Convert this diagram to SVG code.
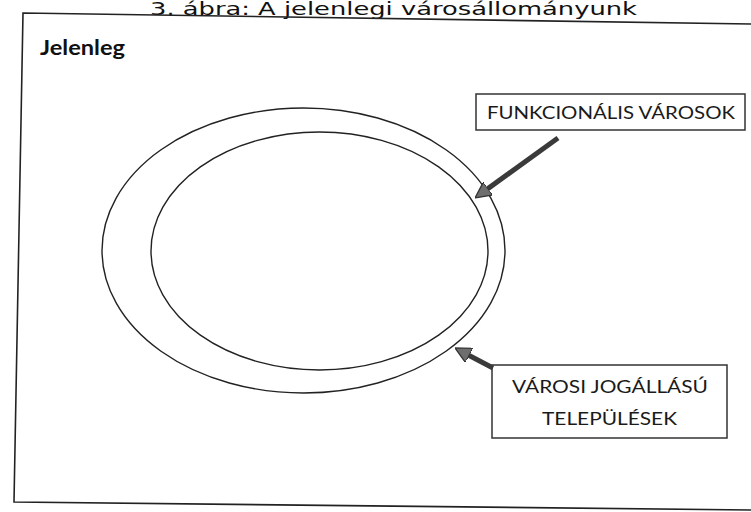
<svg xmlns="http://www.w3.org/2000/svg" width="751" height="512" viewBox="0 0 751 512">
<style>
.frame{fill:none;stroke:#222;stroke-width:1.6}
.ell{fill:none;stroke:#222;stroke-width:1.4}
.box{fill:#fff;stroke:#333;stroke-width:1.5}
.lbl{font-family:Lato,"Open Sans","DejaVu Sans",sans-serif;font-size:18px;fill:#1a1a1a}
.conn{stroke:#3a3a3a;stroke-width:5;fill:none}
.title{font-family:"DejaVu Sans","Open Sans",sans-serif;font-size:17px;fill:#111}
.head{font-family:Lato,"Open Sans",sans-serif;font-size:20px;font-weight:bold;fill:#111}
</style>
<defs>
<marker id="ah" viewBox="0 0 10 10" refX="3" refY="5" markerWidth="16" markerHeight="16" markerUnits="userSpaceOnUse" orient="auto">
<path d="M0,0 L10,5 L0,10 z" fill="#6e6e6e" stroke="#333" stroke-width="0.8"/>
</marker>
</defs>
<rect width="751" height="512" fill="#fff"/>
<text class="title" x="150" y="15" textLength="487" lengthAdjust="spacingAndGlyphs">3. ábra: A jelenlegi városállományunk</text>
<path class="frame" d="M751,24 L23,13 L14,502 L751,510"/>
<text class="head" x="40" y="55" textLength="85" lengthAdjust="spacingAndGlyphs">Jelenleg</text>
<g id="outer">
<ellipse class="ell" cx="303.5" cy="250.5" rx="201.5" ry="142.5"/>
</g>
<g id="inner">
<ellipse class="ell" cx="319.5" cy="251" rx="168.5" ry="119"/>
</g>
<g id="box-funkcionalis">
<rect class="box" x="476" y="94" width="269" height="36"/>
<text class="lbl" x="487" y="119" textLength="248" lengthAdjust="spacingAndGlyphs">FUNKCIONÁLIS VÁROSOK</text>
</g>
<g id="box-varosi">
<rect class="box" x="492" y="365" width="235" height="73"/>
<text class="lbl" x="512" y="393" textLength="196" lengthAdjust="spacingAndGlyphs">VÁROSI JOGÁLLÁSÚ</text>
<text class="lbl" x="542" y="425" textLength="135" lengthAdjust="spacingAndGlyphs">TELEPÜLÉSEK</text>
</g>
<g id="connectors">
<line class="conn" x1="558" y1="138" x2="484.1" y2="191.4" marker-end="url(#ah)"/>
<line class="conn" x1="493" y1="368" x2="464.9" y2="353.2" stroke-width="4" marker-end="url(#ah)"/>
</g>
</svg>
